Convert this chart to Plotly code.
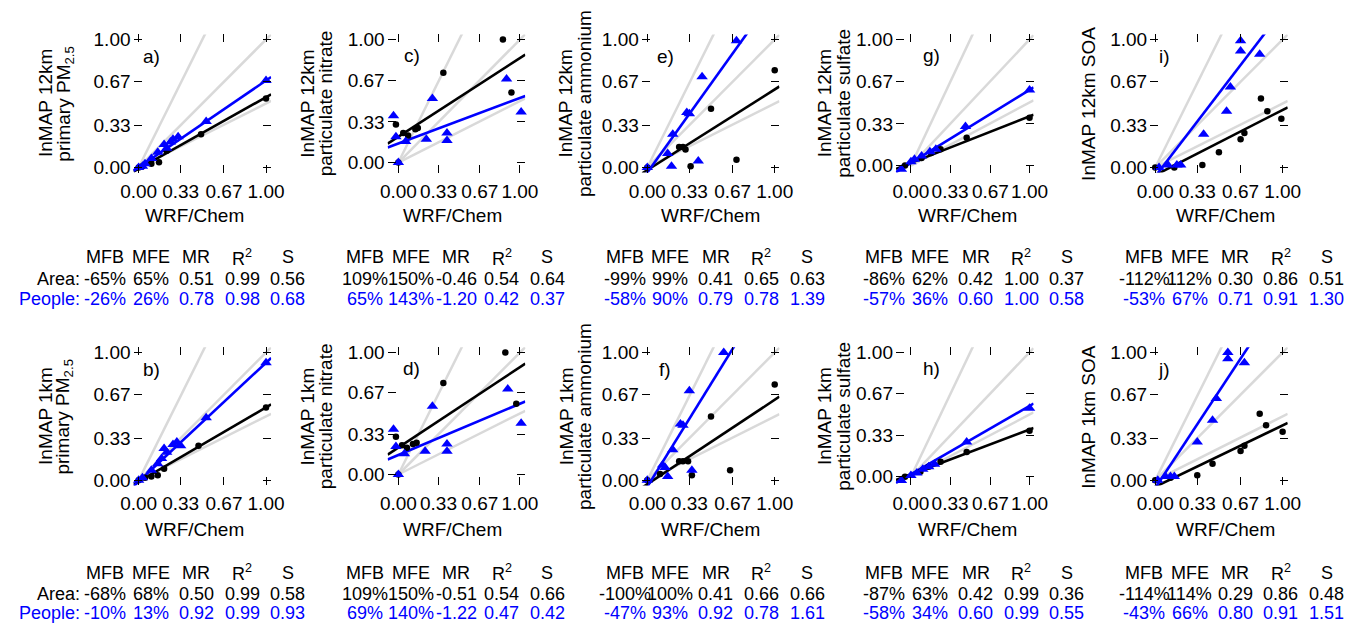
import plotly.graph_objects as go

# The page body has an 8px margin, so the figure is drawn 8px smaller and all
# positions below are given in window pixels and shifted by that margin.
PAGE_W, PAGE_H = 1367, 630
BODY = 8
FW, FH = PAGE_W - BODY, PAGE_H - BODY
FONT = "Liberation Sans, Arial, sans-serif"
BLUE = "#0000ff"
GRAY = "#d9d9d9"

# ---------------- data ----------------
panel_letters = ["a", "c", "e", "g", "i", "b", "d", "f", "h", "j"]
ytitle_line1 = ["InMAP 12km", "InMAP 12km", "InMAP 12km", "InMAP 12km", "InMAP 12km SOA",
                "InMAP 1km", "InMAP 1km", "InMAP 1km", "InMAP 1km", "InMAP 1km SOA"]
ytitle_line2 = ["primary PM<sub>2.5</sub>", "particulate nitrate", "particulate ammonium",
                "particulate sulfate", "",
                "primary PM<sub>2.5</sub>", "particulate nitrate", "particulate ammonium",
                "particulate sulfate", ""]
xtitle = "WRF/Chem"
tick_vals = [0.0, 0.33, 0.67, 1.0]
tick_text = ["0.00", "0.33", "0.67", "1.00"]
ref_slopes = [2.0, 1.0, 0.5]

# area-weighted (black dots) and population-weighted (blue triangles)
a_area_x = [0.0, 0.03, 0.1, 0.16, 0.22, 0.49, 1.0]
a_area_y = [0.0, 0.01, 0.03, 0.04, 0.13, 0.26, 0.54]
a_people_x = [0.0, 0.03, 0.05, 0.1, 0.15, 0.2, 0.22, 0.25, 0.27, 0.31, 0.53, 1.0]
a_people_y = [0.0, 0.01, 0.03, 0.07, 0.12, 0.18, 0.15, 0.2, 0.22, 0.24, 0.36, 0.68]

c_area_x = [0.0, -0.02, 0.04, 0.08, 0.14, 0.16, 0.37, 0.86, 0.93]
c_area_y = [0.0, 0.31, 0.24, 0.22, 0.27, 0.28, 0.73, 1.0, 0.57]
c_people_x = [0.0, -0.04, -0.02, 0.06, 0.23, 0.28, 0.4, 0.4, 0.89, 1.01]
c_people_y = [0.0, 0.38, 0.21, 0.17, 0.19, 0.52, 0.24, 0.18, 0.68, 0.41]

e_area_x = [0.0, 0.25, 0.28, 0.3, 0.34, 0.5, 0.7, 1.0]
e_area_y = [0.0, 0.16, 0.16, 0.14, 0.01, 0.46, 0.06, 0.76]
e_people_x = [0.0, 0.16, 0.19, 0.2, 0.31, 0.33, 0.4, 0.43, 0.7]
e_people_y = [0.0, 0.11, 0.01, 0.26, 0.43, 0.42, 0.05, 0.71, 0.99]

g_area_x = [-0.05, 0.09, 0.17, 0.25, 0.47, 1.0]
g_area_y = [0.0, 0.06, 0.10, 0.13, 0.22, 0.38]
g_people_x = [-0.08, 0.0, 0.03, 0.09, 0.16, 0.21, 0.46, 1.0]
g_people_y = [-0.03, 0.03, 0.05, 0.075, 0.11, 0.13, 0.31, 0.6]

i_area_x = [0.0, 0.15, 0.37, 0.5, 0.67, 0.7, 0.83, 0.88, 0.99]
i_area_y = [0.0, 0.0, 0.02, 0.12, 0.22, 0.27, 0.54, 0.44, 0.38]
i_people_x = [0.03, 0.1, 0.17, 0.2, 0.38, 0.56, 0.59, 0.67, 0.67, 0.82]
i_people_y = [0.0, 0.02, 0.02, 0.02, 0.26, 0.44, 0.63, 0.91, 0.99, 0.885]

b_area_x = [0.0, 0.05, 0.1, 0.15, 0.2, 0.47, 1.0]
b_area_y = [0.0, 0.02, 0.03, 0.04, 0.09, 0.27, 0.57]
b_people_x = [0.0, 0.03, 0.1, 0.15, 0.18, 0.2, 0.22, 0.27, 0.3, 0.33, 0.53, 1.0]
b_people_y = [0.0, 0.02, 0.08, 0.13, 0.17, 0.25, 0.22, 0.28, 0.3, 0.27, 0.49, 0.92]

d_area_x = [0.0, -0.02, 0.03, 0.07, 0.12, 0.15, 0.37, 0.88, 0.97]
d_area_y = [0.0, 0.31, 0.24, 0.22, 0.25, 0.26, 0.75, 1.0, 0.58]
d_people_x = [0.0, -0.04, -0.02, 0.05, 0.22, 0.28, 0.4, 0.4, 0.9, 1.01]
d_people_y = [0.0, 0.37, 0.23, 0.17, 0.19, 0.56, 0.25, 0.19, 0.7, 0.42]

f_area_x = [0.0, 0.1, 0.25, 0.28, 0.32, 0.35, 0.5, 0.65, 1.0]
f_area_y = [0.0, 0.05, 0.15, 0.15, 0.15, 0.04, 0.5, 0.08, 0.75]
f_people_x = [0.0, 0.12, 0.14, 0.16, 0.2, 0.26, 0.28, 0.33, 0.35, 0.6]
f_people_y = [0.0, 0.12, 0.1, 0.03, 0.24, 0.44, 0.43, 0.7, 0.08, 1.0]

h_area_x = [-0.05, 0.08, 0.15, 0.25, 0.47, 1.0]
h_area_y = [0.0, 0.04, 0.08, 0.12, 0.2, 0.37]
h_people_x = [-0.08, 0.0, 0.05, 0.1, 0.15, 0.2, 0.47, 1.0]
h_people_y = [-0.03, 0.01, 0.03, 0.06, 0.08, 0.1, 0.28, 0.55]

j_area_x = [0.0, 0.12, 0.33, 0.45, 0.67, 0.7, 0.82, 0.87, 1.0]
j_area_y = [0.0, 0.02, 0.04, 0.13, 0.23, 0.27, 0.52, 0.43, 0.38]
j_people_x = [0.02, 0.08, 0.12, 0.15, 0.33, 0.45, 0.48, 0.57, 0.57, 0.7]
j_people_y = [0.0, 0.03, 0.03, 0.03, 0.3, 0.47, 0.64, 1.0, 0.95, 0.92]

# statistics tables (columns MFB, MFE, MR, R2, S) per panel
stat_headers = ["MFB", "MFE", "MR", "R<sup>2</sup>", "S"]
area_stats_12km = [["-65%", "65%", "0.51", "0.99", "0.56"],
                   ["109%", "150%", "-0.46", "0.54", "0.64"],
                   ["-99%", "99%", "0.41", "0.65", "0.63"],
                   ["-86%", "62%", "0.42", "1.00", "0.37"],
                   ["-112%", "112%", "0.30", "0.86", "0.51"]]
people_stats_12km = [["-26%", "26%", "0.78", "0.98", "0.68"],
                     ["65%", "143%", "-1.20", "0.42", "0.37"],
                     ["-58%", "90%", "0.79", "0.78", "1.39"],
                     ["-57%", "36%", "0.60", "1.00", "0.58"],
                     ["-53%", "67%", "0.71", "0.91", "1.30"]]
area_stats_1km = [["-68%", "68%", "0.50", "0.99", "0.58"],
                  ["109%", "150%", "-0.51", "0.54", "0.66"],
                  ["-100%", "100%", "0.41", "0.66", "0.66"],
                  ["-87%", "63%", "0.42", "0.99", "0.36"],
                  ["-114%", "114%", "0.29", "0.86", "0.48"]]
people_stats_1km = [["-10%", "13%", "0.92", "0.99", "0.93"],
                    ["69%", "140%", "-1.22", "0.47", "0.42"],
                    ["-47%", "93%", "0.92", "0.78", "1.61"],
                    ["-58%", "34%", "0.60", "0.99", "0.55"],
                    ["-43%", "66%", "0.80", "0.91", "1.51"]]

# regression intercepts (slopes are the S column above)
area_intercepts = [-0.01, 0.21, -0.02, 0.02, -0.06, -0.01, 0.22, -0.03, 0.02, -0.05]
people_intercepts = [0.0, 0.155, -0.04, 0.02, -0.07, -0.01, 0.16, -0.05, 0.02, -0.06]

area_x = [a_area_x, c_area_x, e_area_x, g_area_x, i_area_x, b_area_x, d_area_x, f_area_x, h_area_x, j_area_x]
area_y = [a_area_y, c_area_y, e_area_y, g_area_y, i_area_y, b_area_y, d_area_y, f_area_y, h_area_y, j_area_y]
people_x = [a_people_x, c_people_x, e_people_x, g_people_x, i_people_x,
            b_people_x, d_people_x, f_people_x, h_people_x, j_people_x]
people_y = [a_people_y, c_people_y, e_people_y, g_people_y, i_people_y,
            b_people_y, d_people_y, f_people_y, h_people_y, j_people_y]
area_slopes = [float(r[4]) for r in area_stats_12km + area_stats_1km]
people_slopes = [float(r[4]) for r in people_stats_12km + people_stats_1km]

# ---------------- layout (window pixels) ----------------
x_ranges = [[-0.04, 1.04], [-0.088, 1.044], [-0.043, 1.037], [-0.126, 1.034], [-0.04, 1.04]] * 2
y_ranges = [[-0.04, 1.04], [-0.082, 1.042], [-0.04, 1.04], [-0.056, 1.04], [-0.04, 1.04],
            [-0.04, 1.04], [-0.09, 1.042], [-0.04, 1.04], [-0.07, 1.04], [-0.04, 1.04]]
plot_left0, col_step, plot_w = 122.8, 259.3, 140.4
row_top = [29.8, 347.8]
plot_h = 140.4
ytitle_x = [[33, 52], [300, 319], [564, 583], [828, 847], [1097, 1097]]
label_xdata = [0.1, 0.11, 0.14, 0.17, 0.07]
xtitle_x0, xtitle_step = 185, 263
xtitle_y = [214, 533]
table_c0, table_step, table_col = 187, 265, 46.5
table_y = [[256, 278, 299], [577, 599, 618]]


def px(x):
    return (x - BODY) / FW


def py(y):
    return 1 - (y - BODY) / FH


fig = go.Figure()
annotations = []
axis_common = dict(tickvals=tick_vals, ticktext=tick_text, ticks="inside", ticklen=8,
                   tickwidth=1.3, tickcolor="black", mirror="ticks", showline=False,
                   showgrid=False, zeroline=False,
                   tickfont=dict(family=FONT, size=19, color="black"))
for p in range(10):
    row, col = divmod(p, 5)
    n = "" if p == 0 else str(p + 1)
    xa, ya = "x" + n, "y" + n
    left = plot_left0 + col * col_step
    top = row_top[row]
    xr = x_ranges[p]
    fig.update_layout(**{
        "xaxis" + n: dict(domain=[px(left), px(left + plot_w)], anchor=ya, range=xr,
                          ticklabelstandoff=5, **axis_common),
        "yaxis" + n: dict(domain=[py(top + plot_h), py(top)], anchor=xa, range=y_ranges[p],
                          ticklabelstandoff=2, **axis_common),
    })
    # reference lines 2:1, 1:1, 1:2
    for s in ref_slopes:
        fig.add_trace(go.Scatter(x=[0, xr[1]], y=[0, s * xr[1]], mode="lines",
                                 line=dict(color=GRAY, width=2.5), xaxis=xa, yaxis=ya,
                                 showlegend=False, hoverinfo="skip"))
    # regression lines
    for slope, icpt, colr in [(area_slopes[p], area_intercepts[p], "black"),
                              (people_slopes[p], people_intercepts[p], BLUE)]:
        fig.add_trace(go.Scatter(x=[xr[0], xr[1]], y=[icpt + slope * xr[0], icpt + slope * xr[1]],
                                 mode="lines", line=dict(color=colr, width=2.6),
                                 xaxis=xa, yaxis=ya, showlegend=False, hoverinfo="skip"))
    fig.add_trace(go.Scatter(x=area_x[p], y=area_y[p], mode="markers",
                             marker=dict(symbol="circle", size=6.5, color="black"),
                             xaxis=xa, yaxis=ya, showlegend=False, cliponaxis=False))
    fig.add_trace(go.Scatter(x=people_x[p], y=people_y[p], mode="markers",
                             marker=dict(symbol="triangle-up", size=10, color=BLUE),
                             xaxis=xa, yaxis=ya, showlegend=False, cliponaxis=False))
    # panel letter
    annotations.append(dict(x=label_xdata[col], y=0.87, xref=xa, yref=ya, text=panel_letters[p] + ")",
                            showarrow=False, xanchor="center", yanchor="middle",
                            font=dict(family=FONT, size=19, color="black")))
    # y titles
    cy = top + plot_h / 2
    if ytitle_line2[p]:
        lines = [(ytitle_line1[p], ytitle_x[col][0]), (ytitle_line2[p], ytitle_x[col][1])]
    else:
        lines = [(ytitle_line1[p], ytitle_x[col][0])]
    for txt, xx in lines:
        annotations.append(dict(x=px(xx), y=py(cy), xref="paper", yref="paper", text=txt,
                                textangle=-90, showarrow=False, xanchor="center", yanchor="middle",
                                font=dict(family=FONT, size=19, color="black")))
    # x title
    annotations.append(dict(x=px(xtitle_x0 + col * xtitle_step), y=py(xtitle_y[row]), xref="paper",
                            yref="paper", text=xtitle, showarrow=False, xanchor="center",
                            yanchor="middle", font=dict(family=FONT, size=19, color="black")))

# tables
tables = [(area_stats_12km, people_stats_12km), (area_stats_1km, people_stats_1km)]
for row in range(2):
    ys = table_y[row]
    area_rows, people_rows = tables[row]
    for col in range(5):
        cx = table_c0 + col * table_step
        for j in range(5):
            x = cx + (j - 2) * table_col
            annotations.append(dict(x=px(x), y=py(ys[0]), xref="paper", yref="paper",
                                    text=stat_headers[j], showarrow=False, xanchor="center",
                                    yanchor="middle", font=dict(family=FONT, size=18, color="black")))
            annotations.append(dict(x=px(x), y=py(ys[1]), xref="paper", yref="paper",
                                    text=area_rows[col][j], showarrow=False, xanchor="center",
                                    yanchor="middle", font=dict(family=FONT, size=18, color="black")))
            annotations.append(dict(x=px(x), y=py(ys[2]), xref="paper", yref="paper",
                                    text=people_rows[col][j], showarrow=False, xanchor="center",
                                    yanchor="middle", font=dict(family=FONT, size=18, color=BLUE)))
    lab_x = table_c0 - 2 * table_col - 24
    annotations.append(dict(x=px(lab_x), y=py(ys[1]), xref="paper", yref="paper", text="Area:",
                            showarrow=False, xanchor="right", yanchor="middle",
                            font=dict(family=FONT, size=18, color="black")))
    annotations.append(dict(x=px(lab_x), y=py(ys[2]), xref="paper", yref="paper", text="People:",
                            showarrow=False, xanchor="right", yanchor="middle",
                            font=dict(family=FONT, size=18, color=BLUE)))

fig.update_layout(width=FW, height=FH, autosize=False, margin=dict(l=0, r=0, t=0, b=0),
                  paper_bgcolor="white", plot_bgcolor="white", annotations=annotations,
                  font=dict(family=FONT, size=18, color="black"))
fig.write_html("out.html")
